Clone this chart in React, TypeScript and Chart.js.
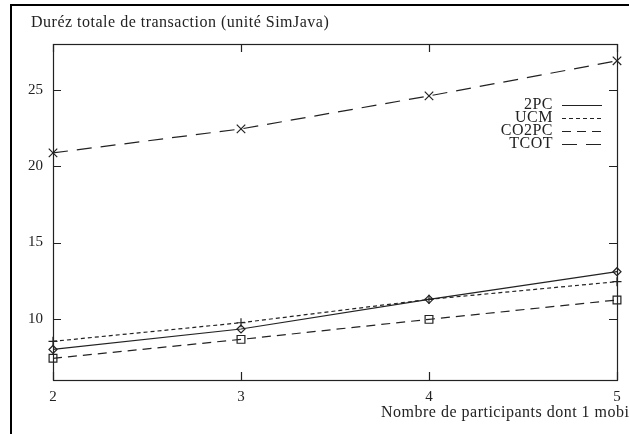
import React, { useEffect, useRef } from "react";
import { Chart, registerables } from "chart.js";

Chart.register(...registerables);

const categories = [2, 3, 4, 5];
const seriesNames = ["2PC", "UCM", "CO2PC", "TCOT"];
const twoPC = [8.0, 9.34, 11.28, 13.09];
const ucm = [8.53, 9.75, 11.28, 12.44];
const co2pc = [7.42, 8.66, 9.97, 11.24];
const tcot = [20.87, 22.44, 24.6, 26.9];
const yTickValues = [10, 15, 20, 25];
const xTickValues = [2, 3, 4, 5];
const titleText = "Duréz totale de transaction (unité SimJava)";
const xLabelText = "Nombre de participants dont 1 mobi";

const FONT = "'Liberation Serif', 'DejaVu Serif', serif";
const INK = "#222";

const dashes: number[][] = [[], [4, 3], [9, 6], [15, 9]];
const pointStyles = ["rectRot", "cross", "rect", "crossRot"];
const pointRadii = [4, 4.5, 5.5, 6];

const overlay = {
  id: "gnuplotOverlay",
  beforeDraw(chart: any) {
    const ctx = chart.ctx;
    ctx.save();
    ctx.fillStyle = "#fff";
    ctx.fillRect(0, 0, chart.width, chart.height);
    ctx.strokeStyle = "#000";
    ctx.lineWidth = 2;
    ctx.beginPath();
    ctx.moveTo(11, 4);
    ctx.lineTo(11, chart.height);
    ctx.moveTo(10, 5);
    ctx.lineTo(chart.width, 5);
    ctx.stroke();
    ctx.restore();
  },
  afterDraw(chart: any) {
    const ctx = chart.ctx;
    const { left, right, top, bottom } = chart.chartArea;
    const xs = chart.scales.x;
    const ys = chart.scales.y;
    ctx.save();
    ctx.strokeStyle = INK;
    ctx.lineWidth = 1.2;
    ctx.setLineDash([]);
    ctx.strokeRect(left + 0.5, top + 0.5, right - left, bottom - top);
    ctx.beginPath();
    for (const v of yTickValues) {
      const py = Math.round(ys.getPixelForValue(v)) + 0.5;
      ctx.moveTo(left, py);
      ctx.lineTo(left + 8, py);
      ctx.moveTo(right, py);
      ctx.lineTo(right - 8, py);
    }
    for (const v of xTickValues) {
      const px = Math.round(xs.getPixelForValue(v)) + 0.5;
      ctx.moveTo(px, bottom);
      ctx.lineTo(px, bottom - 8);
      ctx.moveTo(px, top);
      ctx.lineTo(px, top + 8);
    }
    ctx.stroke();

    ctx.fillStyle = INK;
    ctx.font = `16px ${FONT}`;
    (ctx as any).letterSpacing = "0.5px";
    ctx.textBaseline = "middle";
    ctx.textAlign = "left";
    ctx.fillText(titleText, 31, 23);
    ctx.fillText(xLabelText, 381, 413);

    // legend
    ctx.textAlign = "right";
    chart.data.datasets.forEach((ds: any, i: number) => {
      const ly = 105 + i * 13;
      ctx.fillText(ds.label, 553, ly);
      ctx.beginPath();
      ctx.setLineDash(dashes[i]);
      ctx.lineWidth = 1.2;
      ctx.moveTo(562, ly + 0.5);
      ctx.lineTo(602, ly + 0.5);
      ctx.stroke();
    });
    (ctx as any).letterSpacing = "0px";
    ctx.restore();
  },
};

export default function App() {
  const ref = useRef<HTMLCanvasElement | null>(null);
  useEffect(() => {
    document.body.style.margin = "0";
    const all = [twoPC, ucm, co2pc, tcot];
    const chart = new Chart(ref.current as HTMLCanvasElement, {
      type: "line",
      data: {
        datasets: all.map((vals, i) => ({
          label: seriesNames[i],
          data: categories.map((c, j) => ({ x: c, y: vals[j] })),
          borderColor: INK,
          borderWidth: 1.2,
          borderDash: dashes[i],
          pointStyle: pointStyles[i] as any,
          pointRadius: pointRadii[i],
          pointBorderColor: INK,
          pointBackgroundColor: "rgba(0,0,0,0)",
          pointBorderWidth: 1.2,
          tension: 0,
          fill: false,
          clip: false as any,
        })),
      },
      options: {
        animation: false,
        responsive: false,
        events: [],
        layout: { padding: { top: 44, right: 12, left: 0, bottom: 0 } },
        plugins: {
          legend: { display: false },
          title: { display: false },
          tooltip: { enabled: false },
        },
        scales: {
          x: {
            type: "linear",
            min: 2,
            max: 5,
            grid: { display: false, drawTicks: false },
            border: { display: false },
            afterBuildTicks: (s: any) => {
              s.ticks = xTickValues.map((v) => ({ value: v }));
            },
            afterFit: (s: any) => {
              s.height = 54;
            },
            ticks: {
              padding: 8,
              color: INK,
              font: { family: FONT, size: 15 },
              maxRotation: 0,
              autoSkip: false,
            },
          },
          y: {
            type: "linear",
            min: 6,
            max: 28,
            grid: { display: false, drawTicks: false },
            border: { display: false },
            afterBuildTicks: (s: any) => {
              s.ticks = yTickValues.map((v) => ({ value: v }));
            },
            afterFit: (s: any) => {
              s.width = 53;
            },
            ticks: {
              padding: 10,
              color: INK,
              font: { family: FONT, size: 15 },
              autoSkip: false,
            },
          },
        },
      },
      plugins: [overlay],
    });
    return () => chart.destroy();
  }, []);
  return <canvas ref={ref} width={629} height={434} style={{ display: "block" }} />;
}
